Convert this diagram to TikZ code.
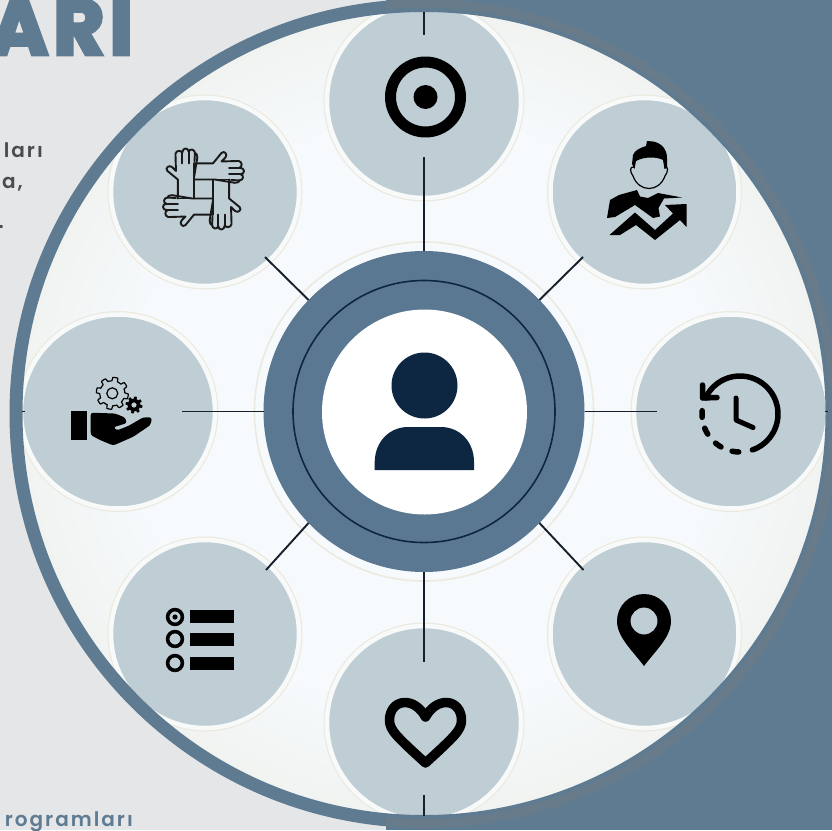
\documentclass[tikz,border=0pt]{standalone}
\usepackage{fontspec}
\setmainfont{Poppins}
\newfontfamily\headfont[FakeBold=5,LetterSpace=7]{Poppins Bold}
\newfontfamily\bodyfont[LetterSpace=10]{Poppins SemiBold}
\definecolor{pagebg}{HTML}{E5E6E8}
\definecolor{slate}{HTML}{5F7B91}
\definecolor{slategrey}{HTML}{687B8A}
\definecolor{hubblue}{HTML}{5B7892}
\definecolor{navy}{HTML}{0D2743}
\definecolor{satfill}{HTML}{BFCDD4}
\definecolor{halo}{HTML}{F8FAF9}
\definecolor{halotan}{HTML}{ECEAE0}
\definecolor{spoke}{HTML}{15202B}
\definecolor{bodygrey}{HTML}{4B4C50}
\definecolor{discA}{HTML}{F7FAFD}
\definecolor{discB}{HTML}{EFF2EE}
\definecolor{discC}{HTML}{E7E8DC}
\pgfdeclareradialshading{discshade}{\pgfpoint{0bp}{0bp}}{%
  color(0bp)=(discA);
  color(18bp)=(discA);
  color(26bp)=(discB);
  color(33bp)=(discC);
  color(50bp)=(discC)}
\tikzset{
  satellite/.style={circle,inner sep=0pt,outer sep=0pt,fill=satfill,draw=halo,line width=4.5pt,
    preaction={draw=halotan,line width=7pt}},
  spokeline/.style={draw=spoke,line width=1.9pt},
  iconstroke/.style={draw=black,fill=none,line cap=round,line join=round},
  handline/.style={draw=black!90,line width=1.9pt,line join=round,line cap=round,fill=none}
}
\newcommand{\gearplot}[5]{plot[domain=0:360,samples=181,variable=\t]
  ({#1+(#4+(#3-#4)*max(0,min(1,2*sin(#5*\t)+0.4)))*cos(\t)},
   {#2+(#4+(#3-#4)*max(0,min(1,2*sin(#5*\t)+0.4)))*sin(\t)})}
\begin{document}
\begin{tikzpicture}[x=1pt,y=-1pt]
\useasboundingbox (0,0) rectangle (832,830);
\fill[pagebg] (0,0) rectangle (832,830);
\fill[slate] (386,0) rectangle (832,830);

% left-hand text
\node[anchor=base east,inner sep=0pt,text=slate,font=\headfont\fontsize{78}{78}\selectfont] (headline) at (133,54.5) {ARI};
\node[anchor=base east,inner sep=0pt,text=bodygrey,font=\bodyfont\fontsize{20}{24}\selectfont] (bodyA) at (43,157) {ları};
\node[anchor=base east,inner sep=0pt,text=bodygrey,font=\bodyfont\fontsize{20}{24}\selectfont] (bodyB) at (23,188) {a,};
\node[anchor=base east,inner sep=0pt,text=bodygrey,font=\bodyfont\fontsize{20}{24}\selectfont] (bodyC) at (4,228) {.};
\node[anchor=base east,inner sep=0pt,text=slate,font=\bodyfont\fontsize{20}{24}\selectfont] (bodyD) at (133,826) {rogramları};

% disc
\shade[shading=discshade] (424,413.5) circle (405pt);

% hub halo and satellites
\draw[halotan,line width=1.6pt] (424,411.5) circle (169.5pt);
\node[satellite,minimum size=194pt] (satTop) at (424,101) {};
\node[satellite,minimum size=188pt] (satUR) at (644.5,192) {};
\node[satellite,minimum size=194pt] (satRight) at (731,411.5) {};
\node[satellite,minimum size=188pt] (satLR) at (644.5,634) {};
\node[satellite,minimum size=194pt] (satBottom) at (424,723) {};
\node[satellite,minimum size=188pt] (satLL) at (205,634) {};
\node[satellite,minimum size=194pt] (satLeft) at (118,411.5) {};
\node[satellite,minimum size=188pt] (satUL) at (205,192) {};

% outer ring
\draw[slate,line width=13pt] (424,413.5) circle (408pt);
\begin{scope}
  \clip (386,0) rectangle (832,830);
  \draw[slategrey,line width=9pt] (424,413.5) circle (410pt);
\end{scope}

% hub
\node[circle,inner sep=0pt,outer sep=0pt,minimum size=321pt,fill=hubblue] (hub) at (424,411.5) {};
\node[circle,inner sep=0pt,outer sep=0pt,minimum size=262pt,draw=navy,line width=1.6pt] (hubline) at (424,411.5) {};
\node[circle,inner sep=0pt,outer sep=0pt,minimum size=205pt,fill=white] (hubcore) at (424.5,412) {};

% spokes
\coordinate (tipTopA) at (424,12);
\coordinate (tipTopB) at (424,35);
\coordinate (tipTop) at (424,157);
\coordinate (tipUR) at (583,257);
\coordinate (tipRight) at (657,411.5);
\coordinate (tipLR) at (583.5,570);
\coordinate (tipBottom) at (424,662);
\coordinate (tipBottomA) at (424,795);
\coordinate (tipBottomB) at (424,816);
\coordinate (tipLL) at (266,570);
\coordinate (tipLeft) at (182,411.5);
\coordinate (tipUL) at (265,257);
\coordinate (tickLA) at (22,411.5);
\coordinate (tickLB) at (25,411.5);
\coordinate (tickRA) at (825,411.5);
\coordinate (tickRB) at (828,411.5);
\draw[spokeline] (hub.90) -- (tipTop);
\draw[spokeline] (hub.44) -- (tipUR);
\draw[spokeline] (hub.0) -- (tipRight);
\draw[spokeline] (hub.-44) -- (tipLR);
\draw[spokeline] (hub.-90) -- (tipBottom);
\draw[spokeline] (hub.-136) -- (tipLL);
\draw[spokeline] (hub.180) -- (tipLeft);
\draw[spokeline] (hub.136) -- (tipUL);
\draw[spokeline] (tipTopA) -- (tipTopB);
\draw[spokeline] (tipBottomA) -- (tipBottomB);
\draw[spokeline] (tickLA) -- (tickLB);
\draw[spokeline] (tickRA) -- (tickRB);

% centre person
\fill[navy] (424.5,385.5) circle (33pt);
\fill[navy] (374.7,470) -- (374.7,462) .. controls (375,441) and (390,427) .. (408,427) -- (441,427) .. controls (459,427) and (474,441) .. (474,462) -- (474,470) -- cycle;

% target icon
\draw[iconstroke,line width=11pt] (425.5,97) circle (35pt);
\fill[black] (425.5,97) circle (12pt);

% person with rising arrow
\fill[black] (632,164) -- (633,155) .. controls (635,150) and (640,148) .. (646,146) -- (647,141) -- (653,141.5) .. controls (662,143) and (667,150) .. (667,158) -- (667,168) -- (664.5,169) -- (663,160) .. controls (658,157) and (645,156) .. (636,161) -- (634.5,169) -- cycle;
\draw[black,line width=1.2pt] (634.5,167) .. controls (629,166) and (630,172) .. (633,176) .. controls (636,184) and (642,188.5) .. (649,188.5) .. controls (656,188.5) and (662,184) .. (665,176) .. controls (668,172) and (669,166) .. (664.5,167);
\fill[black] (607,218) -- (610,200) -- (619,195) -- (637,190) -- (640,196.5) -- (648,198) -- (658,193) -- (682,197.5) -- (664,198.5) -- (658.5,208) -- (660,216.5) -- (653,218) -- (635,205) -- (615,217) -- cycle;
\fill[black] (609.5,235) -- (635,212.5) -- (655,230) -- (673,213.5) -- (665,205) -- (686.5,204) -- (686.5,227) -- (680,220) -- (655,240) -- (636,225) -- (620,235) -- cycle;

% clock icon
\draw[iconstroke,line width=5.5pt] plot[domain=71:-155,samples=50,variable=\t] ({740+38*cos(\t)},{414+38*sin(\t)});
\draw[iconstroke,line width=5.5pt] (702.5,385) -- (702.5,398) -- (717,397.5);
\foreach \ang in {180,153,125,97} {
  \draw[iconstroke,line width=5.5pt] plot[domain=\ang-5:\ang+5,samples=6,variable=\t] ({740+38*cos(\t)},{414+38*sin(\t)});
}
\draw[iconstroke,line width=5pt] (736,398) -- (736,420) -- (753,427.5);

% pin icon
\fill[black,even odd rule] (644,666) .. controls (632,650) and (617,637) .. (617,621) .. controls (617,606) and (629,594) .. (644,594) .. controls (659,594) and (671,606) .. (671,621) .. controls (671,637) and (656,650) .. (644,666) -- cycle (644,621) circle (13.5pt);

% heart icon
\draw[iconstroke,line width=9.5pt,line join=round] (425.5,717) .. controls (420,707) and (412,702.5) .. (405,702.5) .. controls (395,702.5) and (389.5,711) .. (389.5,720) .. controls (389.5,730) and (396,736) .. (425.5,763) .. controls (455,736) and (461.5,730) .. (461.5,720) .. controls (461.5,711) and (456,702.5) .. (446,702.5) .. controls (439,702.5) and (431,707) .. (425.5,717) -- cycle;

% list icon
\foreach \cy/\by in {617/610,639/633,663/657} {
  \draw[black,line width=3.6pt] (175,\cy) circle (7.4pt);
  \fill[black] (190,\by) rectangle (233.5,\by+13);
}
\fill[black] (175,617) circle (2.6pt);

% helping hand with gears
\fill[black] (71,411) rectangle (87,439.5);
\fill[black,rounded corners=2.5pt] (90.7,412.7) -- (115,413.5) -- (125,417.5) -- (127,423) -- (113.3,427.3) -- (116.7,430.5) -- (128.3,426) -- (143.3,417.3) -- (152,417.5) -- (150.5,425) -- (133.3,436.7) -- (113.3,445.5) -- (100,440) -- (90.7,435) -- cycle;
\draw[black,line width=1.2pt,line join=round] \gearplot{112.3}{393.3}{16}{12.5}{8} -- cycle;
\draw[black,line width=1.2pt] (112.3,393.3) circle (5.5pt);
\fill[black,even odd rule] \gearplot{134}{405}{8.5}{6.3}{8} -- cycle (134,405) circle (2.7pt);

% four hands icon
\foreach \k in {0,1,2,3} {
\begin{scope}[shift={(203.5,189)},rotate=-90*\k,scale=0.95]
  \draw[handline] (-27,10) -- (-27,-10) -- (-38,-19) .. controls (-41,-22) and (-36,-26) .. (-33,-23) -- (-29,-19) -- (-29.5,-37) .. controls (-29,-41) and (-23,-41) .. (-22.5,-38) .. controls (-22,-44) and (-16,-44) .. (-15.5,-39) .. controls (-15,-43) and (-9,-42) .. (-9,-38) .. controls (-8,-38) and (-6,-36) .. (-6.5,-33) -- (-10,-12) -- (-10,10);
  \draw[handline] (-22.5,-38) -- (-22.5,-27);
  \draw[handline] (-15.5,-39) -- (-15.5,-27);
  \draw[handline] (-9,-38) -- (-9.5,-29);
  \draw[handline] (-27,10) -- (-10,10);
\end{scope}
}
\end{tikzpicture}
\end{document}
